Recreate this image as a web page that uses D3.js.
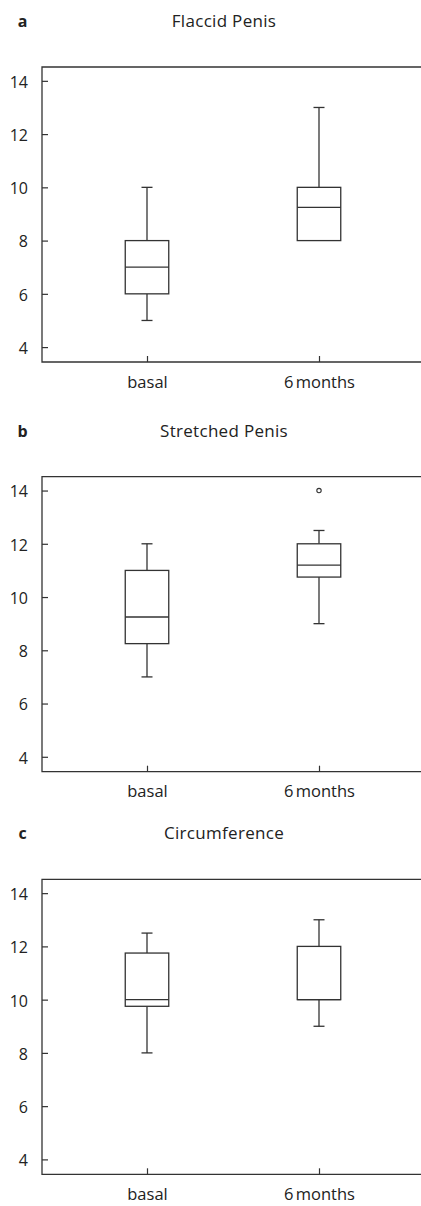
<!DOCTYPE html>
<html><head><meta charset="utf-8">
<script src="https://cdn.jsdelivr.net/npm/d3@7"></script>
<style>
body{margin:0;background:#fff;}
svg{display:block;}
text{font-family:"Open Sans","Noto Sans",sans-serif;fill:#222;}
</style></head>
<body>
<svg id="c" width="421" height="1206"></svg>
<script>
const categories = ["basal", "6 months"];
const panelLabels = ["a", "b", "c"];
const panelTitles = ["Flaccid Penis", "Stretched Penis", "Circumference"];
const yTicks = [4, 6, 8, 10, 12, 14];
// [min, q1, median, q3, max] per category
const flaccid = [[5, 6, 7, 8, 10], [8, 8, 9.25, 10, 13]];
const stretched = [[7, 8.25, 9.25, 11, 12], [9, 10.75, 11.2, 12, 12.5]];
const circumference = [[8, 9.75, 10, 11.75, 12.5], [9, 10, 10, 12, 13]];
const stretchedOutliers = [[], [14]];
const panelsData = [flaccid, stretched, circumference];
const panelsOutliers = [[[], []], stretchedOutliers, [[], []]];

const svg = d3.select("#c");
const ink = "#333";
const textInk = "#222";
const plotTops = [67, 476.7, 879.3];
const plotH = 295;
const left = 42, right = 421;

panelsData.forEach((data, pi) => {
  const top = plotTops[pi], bottom = top + plotH;
  const g = svg.append("g");
  const y = d3.scaleLinear().domain([3.44, 14.52]).range([bottom, top]);
  const x = d3.scalePoint().domain(categories).range([147, 319]);

  g.append("text").attr("x", 22.5).attr("y", top - 40)
    .attr("text-anchor", "middle").style("font-size", "16px").style("font-weight", "bold").text(panelLabels[pi]);
  g.append("text").attr("x", 224).attr("y", top - 40)
    .attr("text-anchor", "middle").style("font-size", "17px").style("letter-spacing", "0.3px").text(panelTitles[pi]);

  // frame: left, top, bottom
  g.append("path")
    .attr("d", `M${right},${top}H${left}V${bottom}H${right}`)
    .attr("fill", "none").attr("stroke", ink).attr("stroke-width", 1.3);

  const yAxis = d3.axisLeft(y).tickValues(yTicks).tickSize(-6).tickPadding(14);
  const ya = g.append("g").attr("transform", `translate(${left},0)`).call(yAxis);
  ya.select(".domain").remove();
  ya.selectAll("line").attr("stroke", ink).attr("stroke-width", 1.2);
  ya.selectAll("text").style("font-size", "16px").attr("fill", textInk).attr("dy", "0.4em");

  const xAxis = d3.axisBottom(x).tickSize(-6).tickPadding(14);
  const xa = g.append("g").attr("transform", `translate(0,${bottom})`).call(xAxis);
  xa.select(".domain").remove();
  xa.selectAll("line").attr("stroke", ink).attr("stroke-width", 1.2);
  xa.selectAll("text").style("font-size", "16.5px").attr("fill", textInk).style("word-spacing", "-2px");

  const bw = 43.5, cw = 11;
  data.forEach((s, ci) => {
    const cx = x(categories[ci]);
    const [mn, q1, md, q3, mx] = s;
    const bg = g.append("g").attr("stroke", ink).attr("stroke-width", 1.3).attr("fill", "none");
    if (mx > q3) {
      bg.append("line").attr("x1", cx).attr("x2", cx).attr("y1", y(q3)).attr("y2", y(mx));
      bg.append("line").attr("x1", cx - cw / 2).attr("x2", cx + cw / 2).attr("y1", y(mx)).attr("y2", y(mx));
    }
    if (mn < q1) {
      bg.append("line").attr("x1", cx).attr("x2", cx).attr("y1", y(q1)).attr("y2", y(mn));
      bg.append("line").attr("x1", cx - cw / 2).attr("x2", cx + cw / 2).attr("y1", y(mn)).attr("y2", y(mn));
    }
    bg.append("rect").attr("x", cx - bw / 2).attr("width", bw)
      .attr("y", y(q3)).attr("height", y(q1) - y(q3)).attr("fill", "#fff");
    bg.append("line").attr("x1", cx - bw / 2).attr("x2", cx + bw / 2).attr("y1", y(md)).attr("y2", y(md));
    panelsOutliers[pi][ci].forEach(o => {
      bg.append("circle").attr("cx", cx).attr("cy", y(o)).attr("r", 2.2).attr("stroke-width", 1.1);
    });
  });
});
</script>
</body></html>
